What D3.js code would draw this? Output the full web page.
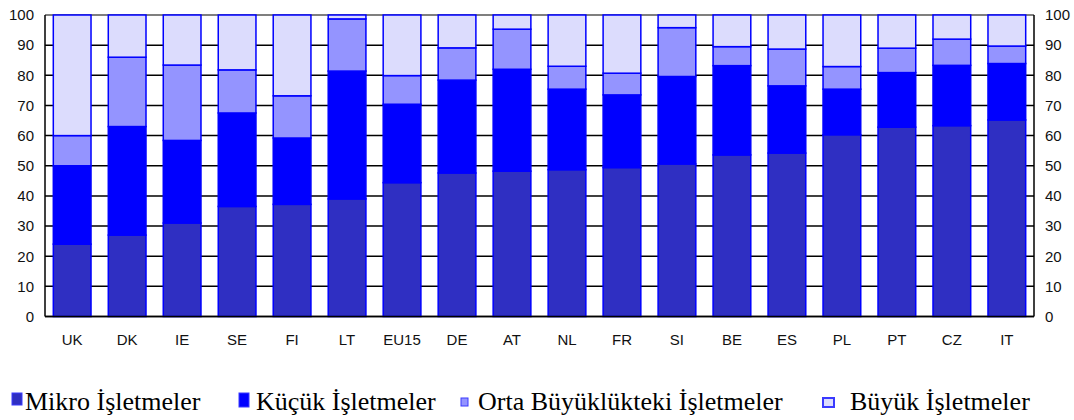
<!DOCTYPE html>
<meta charset="utf-8">
<style>
body { margin: 0; background: #fff; }
.tick-label { font: 15px "Liberation Sans", Arial, sans-serif; fill: #111; }
.legend text { font: 26px "Liberation Serif", "Times New Roman", serif; fill: #000; }
</style>
<body>
<script src="https://d3js.org/d3.v7.min.js"></script>
<script>

// chart data (percent shares of enterprises by size)
var categories = ["UK","DK","IE","SE","FI","LT","EU15","DE","AT","NL","FR","SI","BE","ES","PL","PT","CZ","IT"];
var mikro  = [24, 27, 31, 36.5, 37.2, 39, 44.4, 47.6, 48.2, 48.7, 49.4, 50.6, 53.6, 54.2, 60.3, 62.8, 63.3, 65.2];
var kucuk  = [26, 36, 27.4, 31, 22, 42.4, 26, 30.8, 33.8, 26.7, 24.1, 29, 29.6, 22.3, 15.1, 18.1, 20, 18.7];
var orta   = [10, 23, 25, 14.3, 14, 17.3, 9.5, 10.7, 13.3, 7.6, 7.2, 16.2, 6.3, 12.2, 7.5, 8.1, 8.7, 5.8];
var buyuk  = [40, 14, 16.6, 18.2, 26.8, 1.3, 20.1, 10.9, 4.7, 17, 19.3, 4.2, 10.5, 11.3, 17.1, 11, 8, 10.3];
var yTicks = [0,10,20,30,40,50,60,70,80,90,100];

var seriesKeys = ["mikro","kucuk","orta","buyuk"];
var seriesNames = ["Mikro İşletmeler","Küçük İşletmeler","Orta Büyüklükteki İşletmeler","Büyük İşletmeler"];
var colors = {mikro: "#2f2fc2", kucuk: "#0000ff", orta: "#9494ff", buyuk: "#dcdcfd"};

var W = 1074, H = 420;
var plot = {left: 45, right: 1034, top: 15, bottom: 316.5};

var table = categories.map(function(c, i) {
  return {cat: c, mikro: mikro[i], kucuk: kucuk[i], orta: orta[i], buyuk: buyuk[i]};
});

var x = d3.scaleBand()
    .domain(categories)
    .range([plot.left, plot.right])
    .paddingInner(0.314)
    .paddingOuter(0.151);

var y = d3.scaleLinear()
    .domain([0, 100])
    .range([plot.bottom, plot.top]);

var svg = d3.select("body").append("svg")
    .attr("width", W)
    .attr("height", H);

// horizontal grid lines
svg.append("g").selectAll("line")
    .data(yTicks)
  .enter().append("line")
    .attr("x1", plot.left)
    .attr("x2", plot.right)
    .attr("y1", function(d) { return y(d); })
    .attr("y2", function(d) { return y(d); })
    .attr("stroke", function(d) { return d == 100 ? "#555" : "#000"; })
    .attr("stroke-width", 1.5);

// left and right frame lines
svg.append("line")
    .attr("x1", plot.left).attr("x2", plot.left)
    .attr("y1", plot.top).attr("y2", plot.bottom)
    .attr("stroke", "#000").attr("stroke-width", 1.5);
svg.append("line")
    .attr("x1", plot.right).attr("x2", plot.right)
    .attr("y1", plot.top).attr("y2", plot.bottom)
    .attr("stroke", "#000").attr("stroke-width", 1.5);

// stacked bars
var stacked = d3.stack().keys(seriesKeys)(table);

svg.append("g").selectAll("g")
    .data(stacked)
  .enter().append("g")
    .attr("fill", function(d) { return colors[d.key]; })
  .selectAll("rect")
    .data(function(d) { return d; })
  .enter().append("rect")
    .attr("x", function(d) { return x(d.data.cat); })
    .attr("width", x.bandwidth())
    .attr("y", function(d) { return y(d[1]); })
    .attr("height", function(d) { return y(d[0]) - y(d[1]); })
    .attr("stroke", "#0000ff")
    .attr("stroke-width", 1.5);

// redraw baseline on top
svg.append("line")
    .attr("x1", plot.left).attr("x2", plot.right)
    .attr("y1", y(0)).attr("y2", y(0))
    .attr("stroke", "#000").attr("stroke-width", 1.5);

// axes
var leftAxis = d3.axisLeft(y).tickValues(yTicks).tickSize(0).tickPadding(11);
var rightAxis = d3.axisRight(y).tickValues(yTicks).tickSize(0).tickPadding(11);
var bottomAxis = d3.axisBottom(x).tickSize(0).tickPadding(18);

[["translate(" + plot.left + ",0)", leftAxis],
 ["translate(" + plot.right + ",0)", rightAxis],
 ["translate(0," + plot.bottom + ")", bottomAxis]].forEach(function(a) {
  var g = svg.append("g").attr("transform", a[0]).call(a[1]);
  g.select(".domain").remove();
  g.selectAll("text").attr("class", "tick-label").attr("font-size", null).attr("font-family", null);
});

// legend
var legendItems = [
  {name: seriesNames[0], key: "mikro", sx: 12,  sy: 393, sw: 10, sh: 12, tx: 25},
  {name: seriesNames[1], key: "kucuk", sx: 239, sy: 393, sw: 10, sh: 14, tx: 256},
  {name: seriesNames[2], key: "orta",  sx: 461, sy: 398, sw: 7,  sh: 8,  tx: 478},
  {name: seriesNames[3], key: "buyuk", sx: 823, sy: 398, sw: 11, sh: 9,  tx: 850}
];

var legend = svg.append("g").attr("class", "legend");
legend.selectAll("rect")
    .data(legendItems)
  .enter().append("rect")
    .attr("x", function(d) { return d.sx; })
    .attr("y", function(d) { return d.sy; })
    .attr("width", function(d) { return d.sw; })
    .attr("height", function(d) { return d.sh; })
    .attr("fill", function(d) { return colors[d.key]; })
    .attr("stroke", "#3a3aff")
    .attr("stroke-width", function(d) { return d.key == "buyuk" ? 2 : 1; });

legend.selectAll("text")
    .data(legendItems)
  .enter().append("text")
    .attr("x", function(d) { return d.tx; })
    .attr("y", 410)
    .text(function(d) { return d.name; });

</script>
</body>
